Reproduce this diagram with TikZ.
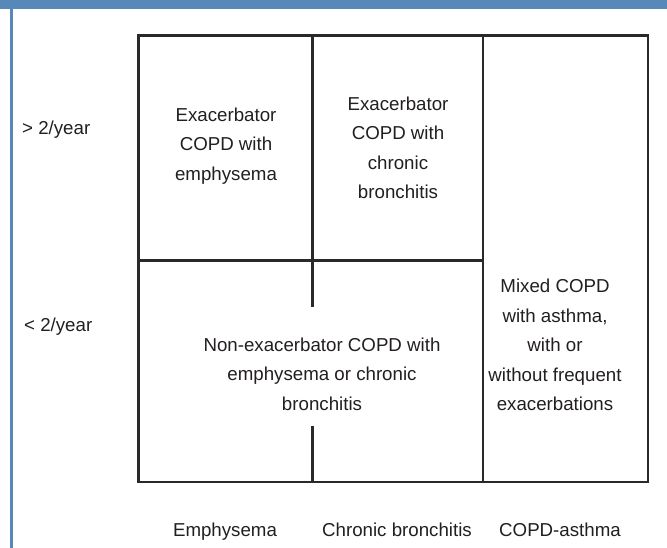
\documentclass[tikz,border=0pt]{standalone}
\usepackage{fontspec}
\setmainfont{Liberation Sans}
\definecolor{hdrblue}{RGB}{86,137,186}
\definecolor{gridgray}{RGB}{42,40,41}
\definecolor{txtgray}{RGB}{35,31,32}
\begin{document}
\begin{tikzpicture}[x=1pt,y=-1pt,
  grid/.style={draw=gridgray,line width=2.4pt,line cap=rect},
  lbl/.style={text=txtgray,font=\fontsize{18.7}{29.5}\selectfont,align=center,inner sep=0pt},
  rowlbl/.style={lbl,anchor=west},
  collbl/.style={lbl,anchor=base}]
\useasboundingbox (0,0) rectangle (667,548);
\fill[white] (0,0) rectangle (667,548);
\fill[hdrblue] (0,0) rectangle (667,9);
\fill[hdrblue] (10,9) rectangle (12.7,548);
% grid coordinates
\coordinate (tl) at (138.5,35.5);
\coordinate (tr) at (648,35.5);
\coordinate (bl) at (138.5,482);
\coordinate (br) at (648,482);
\coordinate (c1t) at (312.5,35.5);
\coordinate (c1m) at (312.5,306);
\coordinate (c1n) at (312.5,427);
\coordinate (c1b) at (312.5,482);
\coordinate (c2t) at (483,35.5);
\coordinate (c2b) at (483,482);
\coordinate (hl) at (138.5,260.5);
\coordinate (hr) at (483,260.5);
\draw[grid] (tl) -- (tr) -- (br) -- (bl) -- cycle;
\draw[grid] (c1t) -- (c1m);
\draw[grid] (c1n) -- (c1b);
\draw[grid] (c2t) -- (c2b);
\draw[grid] (hl) -- (hr);
% cell texts
\node[lbl] (ee) at (226,146) {Exacerbator\\COPD with\\emphysema};
\node[lbl] (ecb) at (398,148) {Exacerbator\\COPD with\\chronic\\bronchitis};
\node[lbl] (mix) at (555,345) {Mixed COPD\\with asthma,\\with or\\without frequent\\exacerbations};
\node[lbl] (nonex) at (322,374) {Non-exacerbator COPD with\\emphysema or chronic\\bronchitis};
% row labels
\node[rowlbl] (gt) at (22,130) {> 2/year};
\node[rowlbl] (lt) at (24,327) {< 2/year};
% column labels
\node[collbl] (emph) at (225,536) {Emphysema};
\node[collbl] (chb) at (397,536) {Chronic bronchitis};
\node[collbl] (ca) at (560,536) {COPD-asthma};
\end{tikzpicture}
\end{document}
